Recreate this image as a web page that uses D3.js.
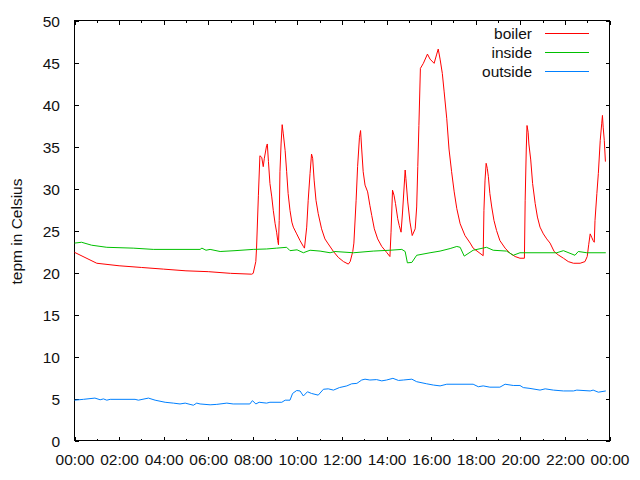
<!DOCTYPE html>
<html>
<head>
<meta charset="utf-8">
<script src="https://cdn.jsdelivr.net/npm/d3@7"></script>
<style>
  body { margin: 0; background: #fff; }
  svg { display: block; font-family: "Liberation Sans", Arial, sans-serif; }
  .axis text { font-size: 15.5px; fill: #111; }
</style>
</head>
<body>
<svg width="640" height="480"></svg>
<script>
// temperatures over one day

const boilerTimes = ["00:00","01:00","02:00","03:00","04:00","05:00","06:00","07:00","07:57","08:01","08:08","08:10","08:15","08:19","08:24","08:28","08:31","08:37","08:39","08:42","08:46","08:51","08:55","09:00","09:04","09:07","09:09","09:11","09:13","09:16","09:19","09:22","09:27","09:31","09:35","09:40","09:45","09:49","09:58","10:07","10:16","10:19","10:25","10:29","10:34","10:38","10:41","10:45","10:50","10:56","11:05","11:14","11:23","11:37","11:50","12:04","12:17","12:22","12:29","12:32","12:38","12:42","12:47","12:50","12:53","12:57","13:02","13:09","13:15","13:20","13:27","13:36","13:47","14:00","14:09","14:12","14:16","14:20","14:24","14:30","14:34","14:39","14:43","14:50","14:52","14:57","15:03","15:09","15:17","15:21","15:24","15:27","15:31","15:39","15:50","15:57","16:08","16:15","16:19","16:24","16:30","16:35","16:42","16:48","16:55","17:02","17:09","17:18","17:31","17:45","17:53","18:20","18:22","18:25","18:28","18:31","18:34","18:38","18:43","18:49","18:56","19:05","19:19","19:32","19:46","19:59","20:11","20:13","20:16","20:18","20:21","20:23","20:28","20:33","20:40","20:46","20:53","21:02","21:11","21:20","21:31","21:42","21:56","22:09","22:23","22:41","22:54","23:00","23:04","23:08","23:12","23:16","23:19","23:21","23:26","23:30","23:35","23:39","23:41","23:43","23:46","23:49"];
const boilerValues = [22.4,21.1,20.8,20.6,20.4,20.2,20.1,19.9,19.8,19.9,21.3,22.9,29.2,33.9,33.7,32.6,33.6,35.1,35.3,33.2,30.6,29.0,27.4,25.8,24.8,23.8,23.3,26.2,32.0,35.3,37.6,36.5,34.5,32.0,29.4,27.4,26.0,25.4,24.6,23.8,23.1,22.9,25.4,28.6,31.8,34.1,33.6,31.0,28.6,27.0,25.2,24.0,23.4,22.5,21.8,21.3,21.0,21.3,22.5,23.5,28.6,32.6,36.1,36.9,34.7,32.0,30.4,29.6,28.0,26.8,25.2,24.0,23.1,22.4,21.9,24.8,29.8,29.2,28.2,26.4,25.6,24.8,27.2,32.2,31.2,28.4,26.0,24.4,25.2,27.8,32.6,37.5,44.3,44.9,46.0,45.4,44.9,46.0,46.6,45.4,43.7,41.5,38.3,34.7,32.0,29.6,27.6,25.8,24.4,23.5,22.9,22.0,27.4,31.0,33.0,32.4,31.4,29.4,27.8,26.2,25.0,23.8,22.9,22.3,21.9,21.7,21.7,28.6,34.7,37.5,36.7,35.3,33.4,30.6,28.2,26.6,25.4,24.6,24.0,23.5,22.5,22.1,21.7,21.3,21.1,21.1,21.3,21.9,23.3,24.6,24.2,23.8,23.6,26.2,29.4,31.8,35.7,37.7,38.7,37.3,35.7,33.2];

const insideTimes = ["00:00","00:19","00:46","01:27","02:38","03:32","05:38","05:43","05:54","06:05","06:32","07:12","08:01","08:37","09:04","09:31","09:40","09:59","10:16","10:34","11:01","11:28","11:41","12:31","13:24","14:09","14:41","14:50","14:56","15:08","15:21","15:57","16:24","16:51","17:09","17:18","17:29","17:53","18:29","18:47","19:23","19:41","19:59","21:38","21:56","22:27","22:36","22:59","23:50"];
const insideValues = [23.5,23.6,23.25,23.0,22.9,22.75,22.75,22.9,22.65,22.75,22.5,22.6,22.75,22.8,22.9,23.0,22.6,22.7,22.35,22.65,22.55,22.35,22.5,22.35,22.55,22.65,22.75,22.5,21.15,21.2,22.05,22.35,22.55,22.85,23.1,23.0,21.95,22.65,23.0,22.65,22.55,22.05,22.35,22.35,22.6,22.05,22.5,22.35,22.35];

const outsideTimes = ["00:00","00:24","00:55","01:09","01:18","01:27","01:36","02:43","02:52","03:19","03:37","04:04","04:26","04:44","04:58","05:11","05:20","05:29","05:38","06:05","06:23","06:50","07:07","07:52","07:59","08:08","08:17","08:37","08:46","09:18","09:27","09:40","09:47","09:58","10:07","10:16","10:27","10:38","10:56","11:10","11:23","11:37","11:53","12:13","12:26","12:40","12:53","13:02","13:15","13:33","13:47","14:00","14:17","14:32","14:45","15:08","15:21","15:48","16:06","16:24","16:42","17:53","18:07","18:20","18:38","19:05","19:19","19:41","19:59","20:08","20:26","20:53","21:07","21:29","21:56","22:23","22:32","23:08","23:16","23:30","23:50"];
const outsideValues = [4.8,4.9,5.05,4.85,4.95,4.8,4.9,4.9,4.8,5.05,4.8,4.55,4.45,4.35,4.45,4.3,4.2,4.45,4.35,4.25,4.3,4.45,4.35,4.35,4.75,4.35,4.55,4.45,4.55,4.55,4.8,4.8,5.6,5.95,5.9,5.3,5.8,5.6,5.4,6.1,6.15,6.0,6.3,6.5,6.75,6.8,7.2,7.3,7.2,7.25,7.1,7.2,7.4,7.15,7.2,7.3,7.0,6.75,6.6,6.5,6.7,6.7,6.4,6.5,6.35,6.35,6.7,6.55,6.55,6.3,6.2,6.0,6.15,6.0,5.9,5.9,6.0,5.9,6.0,5.75,5.9];

const seriesNames = ["boiler", "inside", "outside"];
const seriesColors = ["#ff0000", "#00c000", "#0080ff"];
const yTicks = [0, 5, 10, 15, 20, 25, 30, 35, 40, 45, 50];
const xTicks = [0, 2, 4, 6, 8, 10, 12, 14, 16, 18, 20, 22, 24];

const toHours = t => { const p = t.split(":"); return +p[0] + p[1] / 60; };
const zip = (ts, vs) => ts.map((t, i) => ({ h: toHours(t), v: vs[i] }));
const series = [zip(boilerTimes, boilerValues), zip(insideTimes, insideValues), zip(outsideTimes, outsideValues)];

const svg = d3.select("svg");
const pLeft = 74.5, pRight = 609.5, pTop = 20.5, pBottom = 440.5;

const x = d3.scaleLinear().domain([0, 24]).range([pLeft, pRight]);
const y = d3.scaleLinear().domain([0, 50]).range([pBottom, pTop]);

const pad = n => (n % 24 < 10 ? "0" : "") + (n % 24) + ":00";

// bottom axis, labels + major ticks
const gx = svg.append("g")
    .attr("class", "axis")
    .attr("transform", `translate(0,${pBottom})`)
    .call(d3.axisBottom(x).tickValues(xTicks).tickSize(-4).tickSizeOuter(0).tickFormat(pad));
gx.selectAll("text").attr("y", 24.5).attr("dy", null);

// minor ticks every hour, bottom and top
const hours = d3.range(1, 24, 2);
svg.append("g").attr("transform", `translate(0,${pBottom})`)
    .call(d3.axisBottom(x).tickValues(hours).tickSize(-2).tickSizeOuter(0).tickFormat(""));
svg.append("g").attr("transform", `translate(0,${pTop})`)
    .call(d3.axisTop(x).tickValues(hours).tickSize(-2).tickSizeOuter(0).tickFormat(""));
svg.append("g").attr("transform", `translate(0,${pTop})`)
    .call(d3.axisTop(x).tickValues(xTicks).tickSize(-4).tickSizeOuter(0).tickFormat(""));

const gy = svg.append("g")
    .attr("class", "axis")
    .attr("transform", `translate(${pLeft},0)`)
    .call(d3.axisLeft(y).tickValues(yTicks).tickSize(-4).tickSizeOuter(0).tickPadding(14.5));
gy.selectAll("text").attr("dy", "0.36em");

svg.append("g").attr("transform", `translate(${pRight},0)`)
    .call(d3.axisRight(y).tickValues(yTicks).tickSize(-4).tickSizeOuter(0).tickFormat(""));

svg.selectAll(".domain").remove();
svg.selectAll(".tick line").attr("stroke", "#000").attr("shape-rendering", "crispEdges");

// frame
svg.append("rect")
    .attr("x", pLeft).attr("y", pTop)
    .attr("width", pRight - pLeft).attr("height", pBottom - pTop)
    .attr("fill", "none").attr("stroke", "#000")
    .attr("shape-rendering", "crispEdges");

svg.append("text")
    .attr("transform", `translate(22,${(pTop + pBottom) / 2 + 1}) rotate(-90)`)
    .attr("text-anchor", "middle")
    .attr("font-size", 15.5)
    .attr("fill", "#111")
    .text("tepm in Celsius");

const line = d3.line().x(d => x(d.h)).y(d => y(d.v));

svg.selectAll(".series")
    .data(series)
    .enter()
    .append("path")
    .attr("class", "series")
    .attr("d", line)
    .attr("fill", "none")
    .attr("stroke", (d, i) => seriesColors[i])
    .attr("stroke-width", 1);

// legend
const legend = svg.append("g");
seriesNames.forEach((name, i) => {
    const ly = 33.5 + i * 19;
    legend.append("text")
        .attr("x", 532).attr("y", ly + 5)
        .attr("text-anchor", "end")
        .attr("font-size", 15.5)
        .attr("fill", "#111")
        .text(name);
    legend.append("line")
        .attr("x1", 545).attr("x2", 589)
        .attr("y1", ly).attr("y2", ly)
        .attr("stroke", seriesColors[i])
        .attr("shape-rendering", "crispEdges");
});
</script>
</body>
</html>
